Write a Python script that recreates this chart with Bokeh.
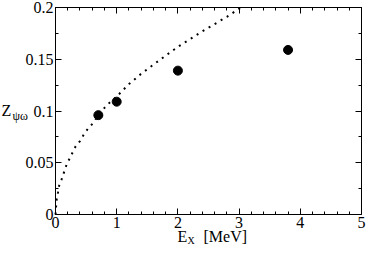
from bokeh.plotting import figure
from bokeh.models import FixedTicker, LinearAxis, Label, CustomJSTickFormatter, Range1d
from bokeh.embed import file_html
from bokeh.resources import INLINE

# dotted curve
curve_x = [0, 0.01, 0.02, 0.04, 0.06, 0.1, 0.14, 0.18, 0.23, 0.28, 0.33, 0.4, 0.46,
           0.53, 0.61, 0.7, 0.8, 0.9, 1.0, 1.2, 1.4, 1.72, 2.0, 2.4, 2.8, 3.03]
curve_y = [0, 0.008, 0.015, 0.021, 0.028, 0.034, 0.041, 0.048, 0.054, 0.060, 0.066,
           0.071, 0.077, 0.083, 0.088, 0.096, 0.103, 0.109, 0.114, 0.126, 0.136,
           0.150, 0.162, 0.177, 0.191, 0.2]

# data points
pts_x = [0.7, 1.0, 2.0, 3.8]
pts_y = [0.096, 0.109, 0.139, 0.159]

x_ticks = [0, 1, 2, 3, 4, 5]
x_minor = [i * 0.2 for i in range(26)]
y_ticks = [0, 0.05, 0.1, 0.15, 0.2]
y_minor = [0, 0.025, 0.05, 0.075, 0.1, 0.125, 0.15, 0.175, 0.2]
x_lim = (0, 5)
y_lim = (0, 0.2)

FONT = "Liberation Serif"

# canvas layout (pixels inside the figure canvas)
W, H = 366, 247
X0_PX, X1_PX = 55, 361      # where x=0 and x=5 sit
YT_PX, YB_PX = 7, 214       # where y=0.2 (top) and y=0 (bottom) sit, from top

sx = (X1_PX - X0_PX) / (x_lim[1] - x_lim[0])
sy = (YB_PX - YT_PX) / (y_lim[1] - y_lim[0])
xr = Range1d(x_lim[0] - X0_PX / sx, x_lim[1] + (W - X1_PX) / sx)
yr = Range1d(y_lim[0] - (H - YB_PX) / sy, y_lim[1] + YT_PX / sy)

p = figure(width=W, height=H, x_range=xr, y_range=yr,
           output_backend="svg", toolbar_location=None, x_axis_location=None,
           y_axis_location=None,
           min_border_left=0, min_border_right=0, min_border_top=0, min_border_bottom=0)
p.xgrid.visible = False
p.ygrid.visible = False
p.outline_line_color = None
p.background_fill_color = "white"
p.border_fill_color = "white"

p.line(curve_x, curve_y, line_color="black", line_width=2, line_dash="2 5")
p.scatter(pts_x, pts_y, size=9, color="black")

fmt = CustomJSTickFormatter(code="return String(tick);")
blank = CustomJSTickFormatter(code="return '';")

def make_axis(ticks, minor, bounds, loc, labels):
    ax = LinearAxis(fixed_location=loc, bounds=bounds)
    ax.ticker = FixedTicker(ticks=ticks, minor_ticks=minor)
    ax.major_tick_in = 6
    ax.major_tick_out = 0
    ax.minor_tick_in = 3
    ax.minor_tick_out = 0
    ax.axis_line_color = "black"
    ax.major_tick_line_color = "black"
    ax.minor_tick_line_color = "black"
    if labels:
        ax.formatter = fmt
        ax.major_label_text_font = FONT
        ax.major_label_text_font_size = "16px"
        ax.major_label_text_color = "black"
    else:
        ax.formatter = blank
    return ax

bottom = make_axis(x_ticks, x_minor, x_lim, y_lim[0], True)
bottom.major_label_standoff = 2
p.add_layout(bottom, "below")
left = make_axis(y_ticks, y_minor, y_lim, x_lim[0], True)
left.major_label_standoff = 2
p.add_layout(left, "left")
p.add_layout(make_axis(x_ticks, x_minor, x_lim, y_lim[1], False), "above")
p.add_layout(make_axis(y_ticks, y_minor, y_lim, x_lim[1], False), "right")

def lab(text, x, y, size):
    p.add_layout(Label(x=x, y=y, x_units="screen", y_units="screen", text=text,
                       text_font=FONT, text_font_size=size, text_color="black",
                       text_baseline="alphabetic", text_align="left"))

lab("E", 177, 11, "16px")
lab("X", 187, 7, "10px")
lab("[MeV]", 203, 11, "16px")
lab("Z", 1, 137, "16px")
lab("\u03c8\u03c9", 12, 132, "12px")

open("out.html", "w").write(file_html(p, INLINE))
